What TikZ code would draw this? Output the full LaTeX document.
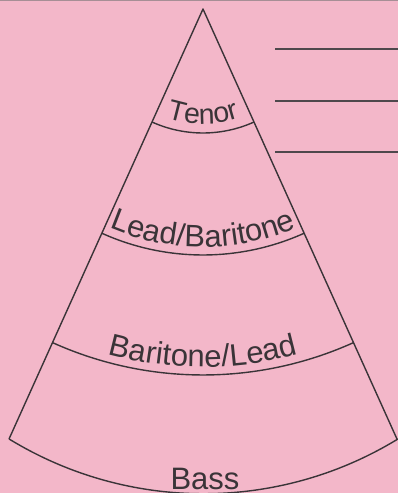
\documentclass[tikz,border=0pt]{standalone}
\usepackage{fontspec}
\setmainfont{Liberation Sans}
\usetikzlibrary{decorations.text}
\definecolor{paper}{RGB}{243,183,201}
\definecolor{ink}{RGB}{58,52,56}
\begin{document}
\begin{tikzpicture}[x=1pt,y=1pt,
  coneline/.style={draw=ink, line width=1.4pt, line join=round},
  rule/.style={draw=ink!90, line width=2.2pt},
  arclabel/.style={decorate, decoration={text along path, text align=center, text color=ink, text={#1}}}]
\fill[paper] (0,0) rectangle (398,493);
\useasboundingbox (0,0) rectangle (398,493);
\fill[black!55, opacity=.6] (0,491.6) rectangle (398,493);
% cone
\coordinate (A) at (203,484);
\path (A) ++(245.72:471.7) coordinate (L);
\path (A) ++(294.28:471.7) coordinate (R);
\draw[coneline] (L) -- (A) -- (R);
\draw[coneline] (L) arc[start angle=238.53, end angle=301.47, radius=372.5];
% dividers
\draw[coneline] (A) ++(245.72:124) arc[start angle=245.72, end angle=294.28, radius=124];
\draw[coneline] (A) ++(245.72:246) arc[start angle=245.72, end angle=294.28, radius=246];
\draw[coneline] (A) ++(245.72:366) arc[start angle=245.72, end angle=294.28, radius=366];
% labels along arcs
\path[arclabel={|\fontsize{28.5}{30}\selectfont|Tenor}] (A) ++(225:115) arc[start angle=225, end angle=315, radius=115];
\path[arclabel={|\fontsize{31}{34}\selectfont|Lead/Baritone}] (A) ++(225:238) arc[start angle=225, end angle=315, radius=238];
\path[arclabel={|\fontsize{31}{34}\selectfont|Baritone/Lead}] (A) ++(225:358) arc[start angle=225, end angle=315, radius=358];
\node[text=ink, font=\fontsize{31}{34}\selectfont, anchor=base, inner sep=0pt] (bass) at (205,4) {Bass};
% answer lines
\draw[rule] (275,444) -- (398,444);
\draw[rule] (275,392) -- (398,392);
\draw[rule] (275,341) -- (398,341);
\end{tikzpicture}
\end{document}
